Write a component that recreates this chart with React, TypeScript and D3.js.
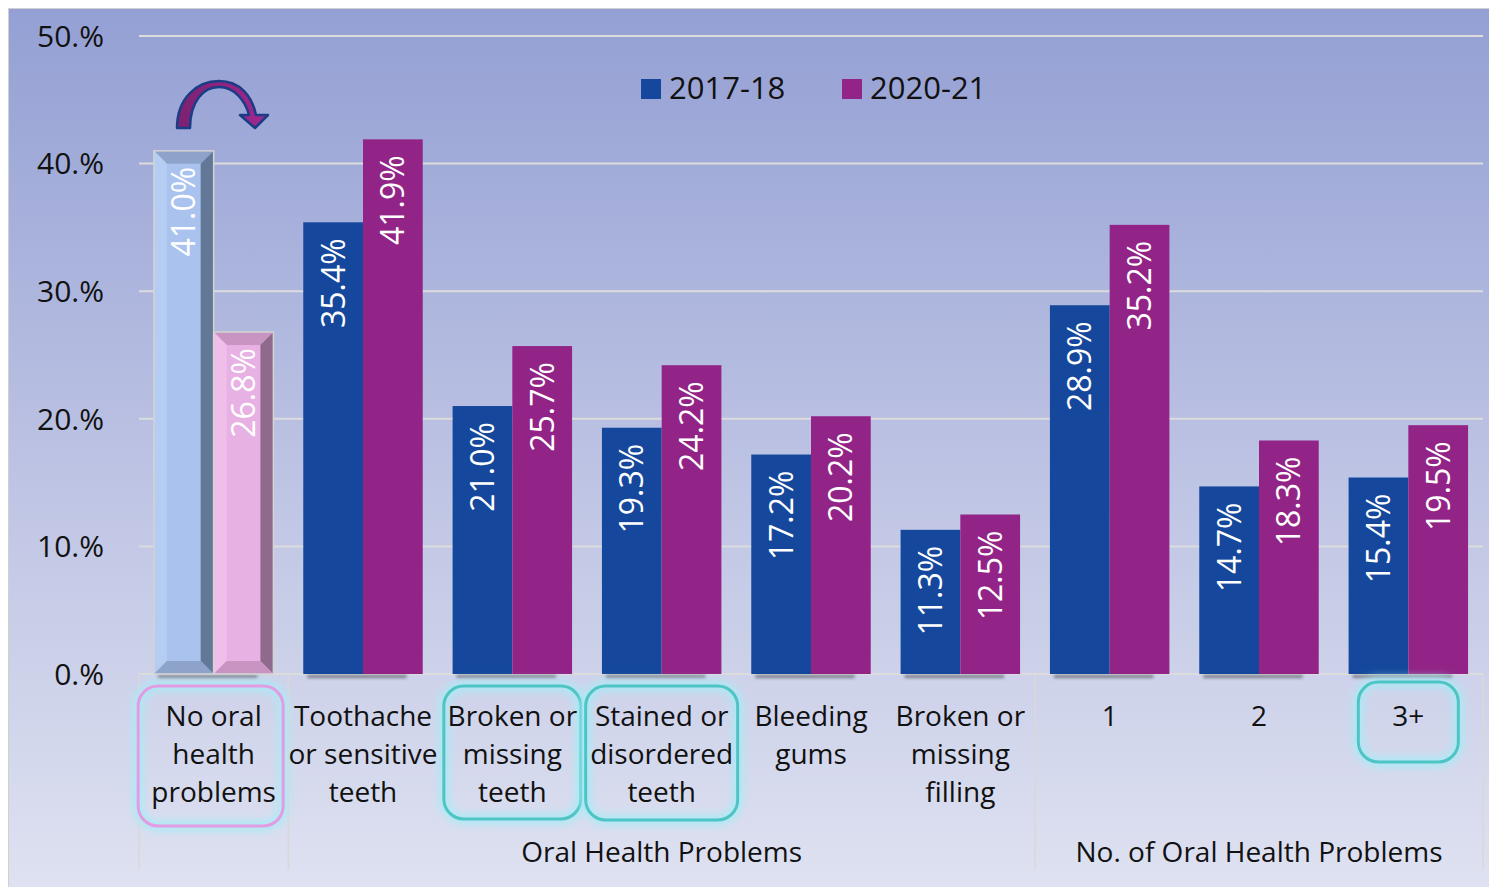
import React from 'react';
import * as d3 from 'd3';

const categories = [
  'No oral health problems',
  'Toothache or sensitive teeth',
  'Broken or missing teeth',
  'Stained or disordered teeth',
  'Bleeding gums',
  'Broken or missing filling',
  '1',
  '2',
  '3+',
];

const categoryLines = [
  ['No oral', 'health', 'problems'],
  ['Toothache', 'or sensitive', 'teeth'],
  ['Broken or', 'missing', 'teeth'],
  ['Stained or', 'disordered', 'teeth'],
  ['Bleeding', 'gums'],
  ['Broken or', 'missing', 'filling'],
  ['1'],
  ['2'],
  ['3+'],
];

const series = ['2017-18', '2020-21'];
const values1718 = [41.0, 35.4, 21.0, 19.3, 17.2, 11.3, 28.9, 14.7, 15.4];
const values2021 = [26.8, 41.9, 25.7, 24.2, 20.2, 12.5, 35.2, 18.3, 19.5];
const yTicks = [0, 10, 20, 30, 40, 50];

const groups = [
  { label: 'Oral Health Problems', from: 1, to: 5 },
  { label: 'No. of Oral Health Problems', from: 6, to: 8 },
];

// boxes drawn round some category labels: [category index, colour, width, height]
const highlights: [number, string, number, number][] = [
  [0, '#e39ce3', 145, 140],
  [2, '#4fc4c4', 137, 133],
  [3, '#4fc4c4', 152, 134],
  [8, '#4fc4c4', 100, 80],
];

const FONT = "'Open Sans', 'DejaVu Sans', sans-serif";
const BLUE = '#15489c';
const MAGENTA = '#922487';

const W = 1489;
const H = 887;
const left = 139;
const right = 1483;
const top = 36;
const bottom = 674;

function BevelBar({ x, y, w, h, face, light, mid, dark }: any) {
  const b = 13;
  return (
    <g>
      <rect x={x} y={y} width={w} height={h} fill={face} />
      <polygon points={`${x},${y} ${x + w},${y} ${x + w - b},${y + b} ${x + b},${y + b}`} fill={mid} />
      <polygon points={`${x},${y} ${x + b},${y + b} ${x + b},${y + h - b} ${x},${y + h}`} fill={light} />
      <polygon points={`${x + w},${y} ${x + w},${y + h} ${x + w - b},${y + h - b} ${x + w - b},${y + b}`} fill={dark} />
      <polygon points={`${x},${y + h} ${x + w},${y + h} ${x + w - b},${y + h - b} ${x + b},${y + h - b}`} fill={mid} />
      <rect x={x} y={y} width={w} height={h} fill="none" stroke="#d4d4d4" strokeWidth={1.5} />
    </g>
  );
}

export default function App() {
  const x0 = d3.scaleBand<string>().domain(categories).range([left, right]).padding(0);
  const x1 = d3
    .scaleBand<string>()
    .domain(series)
    .range([0, x0.bandwidth()])
    .paddingInner(0)
    .paddingOuter(0.25);
  const y = d3.scaleLinear().domain([0, 50]).range([bottom, top]);

  const data = categories.map((c, i) => ({ c, i, vals: [values1718[i], values2021[i]] }));

  const sepXs = [left, x0(categories[1])!, x0(categories[6])!, right];

  return (
    <svg
      width={W}
      height={H}
      style={{ display: 'block', position: 'absolute', left: 0, top: 0 }}
    >
      <defs>
        <linearGradient id="bg" x1="0" x2="0" y1="0" y2="1">
          <stop offset="0%" stopColor="#94a0d4" />
          <stop offset="55%" stopColor="#bfc5e4" />
          <stop offset="100%" stopColor="#dfe2f1" />
        </linearGradient>
        <linearGradient id="arrowFill" x1="0" x2="1" y1="0" y2="0">
          <stop offset="0%" stopColor="#7a2270" />
          <stop offset="100%" stopColor="#a0288f" />
        </linearGradient>
        <filter id="glow" x="-20%" y="-20%" width="140%" height="140%">
          <feGaussianBlur stdDeviation="4" />
        </filter>
        <filter id="shadow" x="-10%" y="-200%" width="120%" height="500%">
          <feGaussianBlur stdDeviation="1.6" />
        </filter>
      </defs>
      <rect x={0} y={0} width={W} height={H} fill="#fff" />
      <rect x={8.5} y={8.5} width={W} height={H} fill="url(#bg)" stroke="#d0d0d0" strokeWidth={1} />

      {/* gridlines */}
      {yTicks.map((t) => (
        <line key={t} x1={left} x2={right} y1={y(t)} y2={y(t)} stroke="#dcdcdc" strokeWidth={2} />
      ))}
      {yTicks.map((t) => (
        <text
          key={`l${t}`}
          x={104}
          y={y(t)}
          dy="0.36em"
          textAnchor="end"
          fontFamily={FONT}
          fontSize={30}
          fill="#111"
        >
          {`${t}.%`}
        </text>
      ))}

      {/* group separators */}
      {sepXs.map((sx, i) => (
        <line key={i} x1={sx} x2={sx} y1={bottom} y2={870} stroke="#d8d8d8" strokeWidth={1.5} />
      ))}

      {/* bar shadows */}
      {data.map((d) => (
        <rect
          key={`s${d.i}`}
          x={x0(d.c)! + x1(series[0])! + 4}
          y={bottom + 1}
          width={x1.bandwidth() * 2 - 20}
          height={3}
          fill="#333"
          opacity={0.55}
          filter="url(#shadow)"
        />
      ))}

      {/* bars */}
      {data.map((d) =>
        d.vals.map((v, j) => {
          const bx = x0(d.c)! + x1(series[j])!;
          const by = y(v);
          const bw = x1.bandwidth();
          const bh = y(0) - y(v);
          if (d.i === 0) {
            return j === 0 ? (
              <BevelBar
                key={`${d.i}-${j}`}
                x={bx}
                y={by}
                w={bw}
                h={bh}
                face="#aac3ee"
                light="#b6cdf3"
                mid="#8ea3c9"
                dark="#627896"
              />
            ) : (
              <BevelBar
                key={`${d.i}-${j}`}
                x={bx}
                y={by}
                w={bw}
                h={bh}
                face="#e8b1e3"
                light="#efbfea"
                mid="#c894c2"
                dark="#8f6a8c"
              />
            );
          }
          return (
            <rect
              key={`${d.i}-${j}`}
              x={bx}
              y={by}
              width={bw}
              height={bh}
              fill={j === 0 ? BLUE : MAGENTA}
            />
          );
        })
      )}

      {/* value labels */}
      {data.map((d) =>
        d.vals.map((v, j) => {
          const cx = x0(d.c)! + x1(series[j])! + x1.bandwidth() / 2;
          return (
            <text
              key={`v${d.i}-${j}`}
              transform={`translate(${cx},${y(v) + 16}) rotate(-90)`}
              dy="0.36em"
              textAnchor="end"
              fontFamily={FONT}
              fontSize={32}
              fill="#fff"
            >
              {`${v.toFixed(1)}%`}
            </text>
          );
        })
      )}

      {/* highlight boxes */}
      {highlights.map(([i, col, bw, bh]) => {
        const cx = x0(categories[i])! + x0.bandwidth() / 2 - (i === 0 ? 3 : 0);
        const by = i === 8 ? 682 : 686;
        return (
          <g key={`h${i}`}>
            <rect
              x={cx - bw / 2}
              y={by}
              width={bw}
              height={bh}
              rx={20}
              fill="none"
              stroke="#a6ecf6"
              strokeWidth={9}
              filter="url(#glow)"
            />
            <rect x={cx - bw / 2} y={by} width={bw} height={bh} rx={20} fill="none" stroke={col} strokeWidth={3} />
          </g>
        );
      })}

      {/* category labels */}
      {data.map((d) => (
        <text key={`c${d.i}`} textAnchor="middle" fontFamily={FONT} fontSize={28} fill="#111">
          {categoryLines[d.i].map((line, k) => (
            <tspan key={k} x={x0(d.c)! + x0.bandwidth() / 2} y={726 + k * 38}>
              {line}
            </tspan>
          ))}
        </text>
      ))}

      {/* group labels */}
      {groups.map((g) => (
        <text
          key={g.label}
          x={(x0(categories[g.from])! + x0(categories[g.to])! + x0.bandwidth()) / 2}
          y={862}
          textAnchor="middle"
          fontFamily={FONT}
          fontSize={28}
          fill="#111"
        >
          {g.label}
        </text>
      ))}

      {/* legend */}
      {series.map((s, j) => (
        <g key={s} transform={`translate(${641 + j * 201},79)`}>
          <rect width={20} height={20} fill={j === 0 ? BLUE : MAGENTA} />
          <text x={28} y={20} fontFamily={FONT} fontSize={31} fill="#111">
            {s}
          </text>
        </g>
      ))}

      {/* curved arrow */}
      <path
        d="M177,128 C177,98 197,81 219,81 C240,81 252,96 256,115 L268,115 L255,128 L240,115 L249,115 C245,100 234,87 219,87 C203,87 190,102 190,128 Z"
        fill="url(#arrowFill)"
        stroke="#1b3c86"
        strokeWidth={2.5}
        strokeLinejoin="round"
      />
    </svg>
  );
}
